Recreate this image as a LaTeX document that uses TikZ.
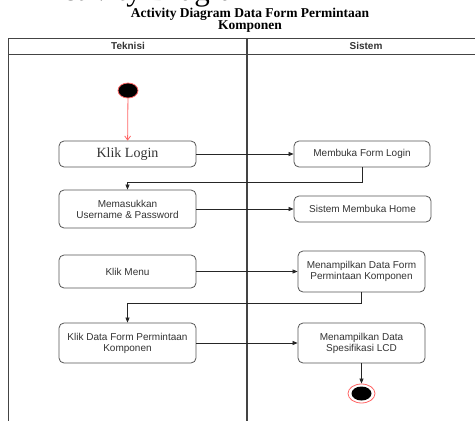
\documentclass[tikz,border=0pt]{standalone}
\usepackage{fontspec}
\setmainfont{Liberation Serif}
\setsansfont{Liberation Sans}
\usetikzlibrary{shapes.geometric,arrows.meta,calc}
\definecolor{edge}{HTML}{555555}
\definecolor{txt}{HTML}{333333}
\definecolor{lane}{HTML}{444444}
\definecolor{startred}{HTML}{FF6666}
\tikzset{
  act/.style={draw=edge, line width=0.8pt, rounded corners=5pt, fill=white,
    font=\sffamily\fontsize{10}{11}\selectfont, text=txt, align=center, inner sep=0pt},
  arr/.style={draw=black!85, line width=0.7pt, -{Triangle[length=5pt,width=4pt]}},
  lanehead/.style={font=\sffamily\bfseries\fontsize{10}{11}\selectfont, text=txt},
}
\begin{document}
\begin{tikzpicture}[x=1pt,y=-1pt]
\useasboundingbox (0,0) rectangle (475,421);
% clipped big heading at the very top (only descenders show)
\node[anchor=base west, inner sep=0pt, font=\fontsize{31}{31}\selectfont] (bigtitle) at (40,0.5) {Activity Diagram};
% title
\node[font=\bfseries\fontsize{13.5}{12}\selectfont, align=center, inner sep=0pt] (title) at (250,20.5)
  {Activity Diagram Data Form Permintaan\\Komponen};
% swimlanes
\draw[lane, line width=0.9pt] (490,38) -- (8,38) -- (8,425);
\draw[lane, line width=0.9pt] (8,54) -- (490,54);
\draw[lane, line width=1.4pt] (247,38) -- (247,425);
\node[lanehead] (h1) at (128,46) {Teknisi};
\node[lanehead] (h2) at (366,46) {Sistem};
% start
\node[ellipse, fill=black, draw=startred, line width=0.8pt, minimum width=20pt, minimum height=15pt, inner sep=0pt] (start) at (128,90.5) {};
% actions
\node[act, minimum width=137pt, minimum height=26pt, font=\rmfamily\fontsize{14}{15}\selectfont] (kl) at (127.5,154) {Klik Login};
\node[act, minimum width=136pt, minimum height=26pt] (mfl) at (362,154) {Membuka Form Login};
\node[act, minimum width=137pt, minimum height=38pt] (mem) at (127.5,209) {Memasukkan\\Username \& Password};
\node[act, minimum width=137pt, minimum height=26pt] (smh) at (362.5,209) {Sistem Membuka Home};
\node[act, minimum width=137pt, minimum height=33pt] (km) at (127.5,271.5) {Klik Menu};
\node[act, minimum width=127pt, minimum height=41pt] (mdf) at (361.5,271.5) {Menampilkan Data Form\\Permintaan Komponen};
\node[act, minimum width=137pt, minimum height=40pt] (kdf) at (127.5,343) {Klik Data Form Permintaan\\Komponen};
\node[act, minimum width=127pt, minimum height=40pt] (mds) at (361.5,343) {Menampilkan Data\\Spesifikasi LCD};
% end
\node[ellipse, fill=white, draw=startred, line width=0.8pt, minimum width=27pt, minimum height=19pt, inner sep=0pt] (endo) at (361.5,393.5) {};
\node[ellipse, fill=black, minimum width=20pt, minimum height=14pt, inner sep=0pt] (endi) at (endo.center) {};
% connectors
\draw[startred, line width=0.8pt, -{Straight Barb[length=4pt,width=6pt]}] (start) -- (kl);
\draw[arr] (kl.east) -- (mfl.west);
\draw[arr] (mfl.south) -- ($(mfl.south)+(0,15)$) -| (mem.north);
\draw[arr] (mem.east) -- (smh.west);
\draw[arr] (km.east) -- (mdf.west);
\draw[arr] (mdf.south) -- ($(mdf.south)+(0,10.5)$) -| (kdf.north);
\draw[arr] (kdf.east) -- (mds.west);
\draw[arr] (mds.south) -- (endo.north);
\end{tikzpicture}
\end{document}
